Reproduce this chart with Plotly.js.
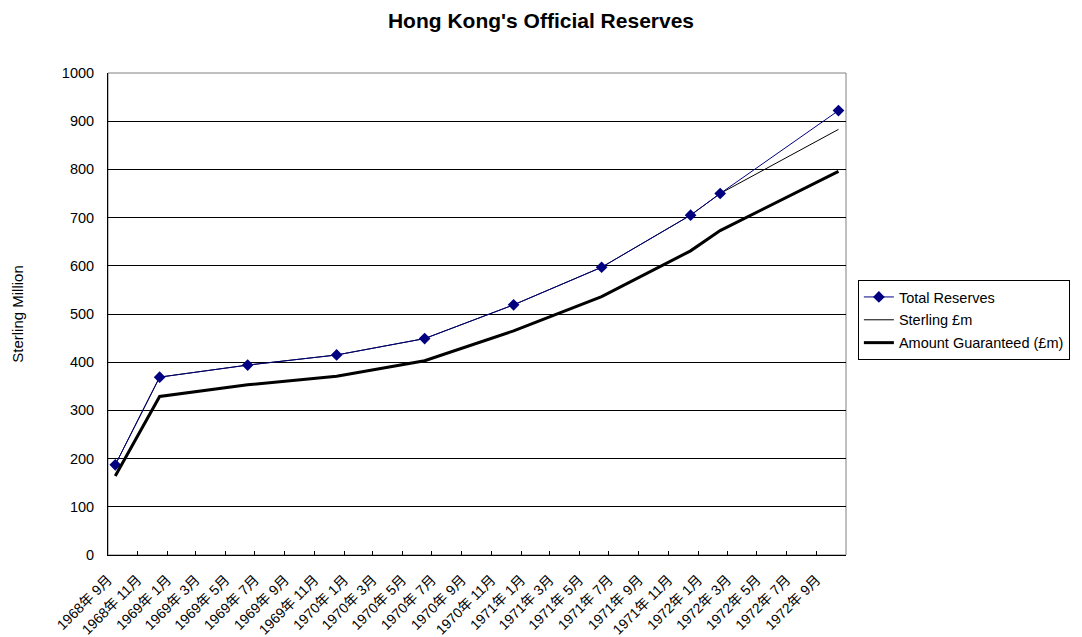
<!DOCTYPE html>
<html>
<head>
<meta charset="utf-8">
<script src="https://cdn.plot.ly/plotly-3.0.1.min.js"></script>
<style>html,body{margin:0;padding:0;background:#fff;}#chart{width:1082px;height:637px;}</style>
</head>
<body>
<div id="chart"></div>
<script>
// Data
const months = ['1968-09','1968-12','1969-06','1969-12','1970-06','1970-12','1971-06','1971-12','1972-02','1972-10'];
const totalReserves = [187, 369, 394, 415, 449, 519, 597, 705, 750, 922];
const sterling = [187, 369, 394, 415, 449, 519, 597, 705, 750, 883];
const amountGuaranteed = [164, 329, 353, 371, 403, 465, 536, 631, 673, 796];

const tickDates = ['1968-09','1968-11','1969-01','1969-03','1969-05','1969-07','1969-09','1969-11',
  '1970-01','1970-03','1970-05','1970-07','1970-09','1970-11','1971-01','1971-03','1971-05','1971-07',
  '1971-09','1971-11','1972-01','1972-03','1972-05','1972-07','1972-09'];
const tickLabels = ['1968年 9月','1968年 11月','1969年 1月','1969年 3月','1969年 5月','1969年 7月','1969年 9月','1969年 11月',
  '1970年 1月','1970年 3月','1970年 5月','1970年 7月','1970年 9月','1970年 11月','1971年 1月','1971年 3月','1971年 5月','1971年 7月',
  '1971年 9月','1971年 11月','1972年 1月','1972年 3月','1972年 5月','1972年 7月','1972年 9月'];

const FONT = 'Liberation Sans, Arial, Noto Sans CJK JP, sans-serif';

const common = {x: months, type: 'scatter', xperiod: 'M1', xperiodalignment: 'middle', hoverinfo: 'skip'};

const traces = [
  Object.assign({}, common, {
    y: sterling, name: 'Sterling £m', mode: 'lines',
    line: {color: '#000000', width: 1}, legendrank: 2, legendgroup: 'b'
  }),
  Object.assign({}, common, {
    y: totalReserves, name: 'Total Reserves', mode: 'lines+markers',
    line: {color: '#000080', width: 1},
    marker: {symbol: 'diamond', size: 9, color: '#000080'}, legendrank: 1, legendgroup: 'a'
  }),
  Object.assign({}, common, {
    y: amountGuaranteed, name: 'Amount Guaranteed (£m)', mode: 'lines',
    line: {color: '#000000', width: 3}, legendrank: 3, legendgroup: 'c'
  })
];

const layout = {
  width: 1082, height: 637,
  margin: {l: 108, r: 229, t: 73, b: 82, pad: 0},
  paper_bgcolor: '#ffffff', plot_bgcolor: '#ffffff',
  font: {family: FONT, size: 14, color: '#000'},
  title: {
    text: "Hong Kong's Official Reserves",
    font: {family: FONT, size: 21, color: '#000', weight: 'bold'},
    x: 0.5, xref: 'container', xanchor: 'center',
    y: 0.968, yref: 'container', yanchor: 'middle'
  },
  showlegend: true,
  legend: {
    x: 1.0161, xanchor: 'left', y: 0.5705, yanchor: 'top',
    bordercolor: '#000', borderwidth: 1, bgcolor: '#fff',
    font: {family: FONT, size: 14.5, color: '#000'},
    traceorder: 'grouped', tracegroupgap: 1, itemwidth: 30
  },
  xaxis: {
    type: 'date',
    range: ['1968-09-01', '1972-11-01'],
    tickvals: tickDates, ticktext: tickLabels,
    tickangle: -45,
    ticks: 'inside', ticklen: 4, tickcolor: '#000', tickwidth: 1,
    showline: true, linecolor: '#000', linewidth: 1,
    showgrid: false, zeroline: false, automargin: false,
    ticklabelstandoff: 10,
    tickfont: {family: FONT, size: 14, color: '#000'}
  },
  yaxis: {
    range: [0, 1000], dtick: 100, tick0: 0,
    ticks: 'inside', ticklen: 4, tickcolor: '#000', tickwidth: 1,
    showline: true, linecolor: '#000', linewidth: 1,
    showgrid: true, gridcolor: '#000', gridwidth: 1,
    zeroline: false, automargin: false,
    ticklabelstandoff: 10,
    tickfont: {family: FONT, size: 14.5, color: '#000'},
    title: {text: 'Sterling Million', font: {family: FONT, size: 15, color: '#000'}, standoff: 34}
  },
  shapes: [{
    type: 'rect', xref: 'paper', yref: 'paper', x0: 0, x1: 1, y0: 0, y1: 1,
    line: {color: '#808080', width: 1}, layer: 'below'
  }]
};

Plotly.newPlot('chart', traces, layout, {displayModeBar: false, staticPlot: true});
</script>
</body>
</html>
